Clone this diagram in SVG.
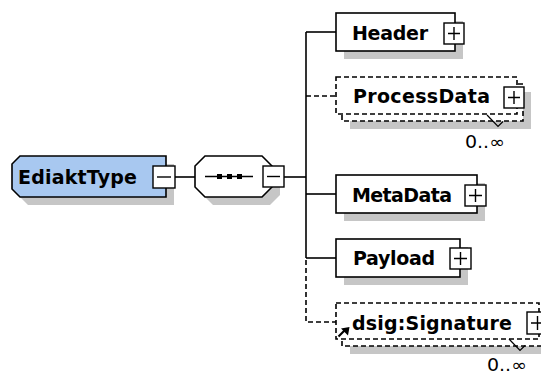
<svg xmlns="http://www.w3.org/2000/svg" width="541" height="376" viewBox="0 0 541 376">
<style>
.box{fill:#fff;stroke:#000;stroke-width:1.6}
.dbox{fill:#fff;stroke:#000;stroke-width:1.6;stroke-dasharray:5,3}
.sh{fill:#c6c6c6;stroke:none}
.ln{fill:none;stroke:#000;stroke-width:1.6}
.dln{fill:none;stroke:#000;stroke-width:1.6;stroke-dasharray:5,3}
.lbl{font-family:"DejaVu Sans","Liberation Sans",sans-serif;font-weight:bold;font-size:19px;fill:#000}
.occ{font-family:"DejaVu Sans","Liberation Sans",sans-serif;font-size:17px;fill:#000}
.btn{fill:#fff;stroke:#000;stroke-width:1.4}
.sg{fill:none;stroke:#000;stroke-width:1.4}
</style>
<rect width="541" height="376" fill="#fff"/>
<g id="connectors">
<line class="ln" x1="175" y1="177" x2="195" y2="177"/>
<line class="ln" x1="284" y1="177" x2="306" y2="177"/>
<line class="ln" x1="306" y1="32" x2="306" y2="258"/>
<line class="ln" x1="306" y1="32" x2="336" y2="32"/>
<line class="dln" x1="306" y1="96" x2="336" y2="96"/>
<line class="ln" x1="306" y1="194" x2="336" y2="194"/>
<line class="ln" x1="306" y1="258" x2="336" y2="258"/>
<polyline class="dln" points="306,260 306,322 336,322"/>
</g>
<g id="EdiaktType">
<polygon class="sh" points="28,164 174,164 174,205 28,205 20,197 20,172"/>
<polygon points="20,156 166,156 166,197 20,197 12,189 12,164" fill="#a8c8f0" stroke="#000" stroke-width="1.6"/>
<text class="lbl" x="18" y="184" textLength="119">EdiaktType</text>
<rect class="btn" x="153" y="166" width="22" height="22"/>
<line class="sg" x1="157" y1="177" x2="171" y2="177"/>
</g>
<g id="sequence">
<polygon class="sh" points="213,164 270,164 280,174 280,195 270,205 213,205 203,195 203,174"/>
<polygon class="box" points="205,156 262,156 272,166 272,187 262,197 205,197 195,187 195,166"/>
<line x1="205" y1="176.5" x2="253" y2="176.5" stroke="#000" stroke-width="1.4"/>
<rect x="217" y="174" width="5" height="5" fill="#000"/>
<rect x="227" y="174" width="5" height="5" fill="#000"/>
<rect x="237" y="174" width="5" height="5" fill="#000"/>
<rect class="btn" x="263" y="166" width="21" height="21"/>
<line class="sg" x1="267" y1="176.5" x2="280" y2="176.5"/>
</g>
<g id="Header">
<rect class="sh" x="344" y="21" width="119" height="38"/>
<rect class="box" x="336" y="13" width="119" height="38"/>
<text class="lbl" x="352" y="40" textLength="76">Header</text>
<rect class="btn" x="444" y="23" width="20" height="21"/>
<path class="sg" d="M448,33.5H460M454,27V40"/>
</g>
<g id="ProcessData">
<rect class="sh" x="350" y="92" width="181" height="37"/>
<rect class="dbox" x="342" y="84" width="181" height="37"/>
<rect class="dbox" x="336" y="77" width="181" height="37"/>
<text class="lbl" x="353" y="103" textLength="137">ProcessData</text>
<rect class="btn" x="504" y="87" width="20" height="21"/>
<path class="sg" d="M508,97.5H520M514,91V104"/>
<polyline points="487,115 498,126.5 503,121.5" fill="none" stroke="#000" stroke-width="1.2"/>
<text class="occ" x="465" y="148" textLength="40" lengthAdjust="spacingAndGlyphs">0..∞</text>
</g>
<g id="MetaData">
<rect class="sh" x="344" y="183" width="141" height="38"/>
<rect class="box" x="336" y="175" width="141" height="38"/>
<text class="lbl" x="352" y="202" textLength="100">MetaData</text>
<rect class="btn" x="465" y="185" width="21" height="21"/>
<path class="sg" d="M469,195.5H482M475.5,189V202"/>
</g>
<g id="Payload">
<rect class="sh" x="344" y="247" width="124" height="38"/>
<rect class="box" x="336" y="239" width="124" height="38"/>
<text class="lbl" x="353" y="265" textLength="82">Payload</text>
<rect class="btn" x="450" y="248" width="21" height="21"/>
<path class="sg" d="M454,258.5H467M460.5,252V265"/>
</g>
<g id="dsigSignature">
<rect class="sh" x="350" y="318" width="210" height="36"/>
<rect class="dbox" x="342" y="310" width="210" height="36"/>
<rect class="dbox" x="336" y="303" width="203" height="36"/>
<text class="lbl" x="352" y="330" textLength="160">dsig:Signature</text>
<rect class="btn" x="527" y="312" width="21" height="22"/>
<path class="sg" d="M531,323H544M537.5,316V330"/>
<line x1="338.5" y1="336.5" x2="344.5" y2="330.5" stroke="#000" stroke-width="2.2"/>
<polygon points="349.5,327 341,328.5 348,335.5" fill="#000"/>
<polyline points="509,339 520,350.5 525,345.5" fill="none" stroke="#000" stroke-width="1.2"/>
<text class="occ" x="487" y="371" textLength="40" lengthAdjust="spacingAndGlyphs">0..∞</text>
</g>
</svg>
